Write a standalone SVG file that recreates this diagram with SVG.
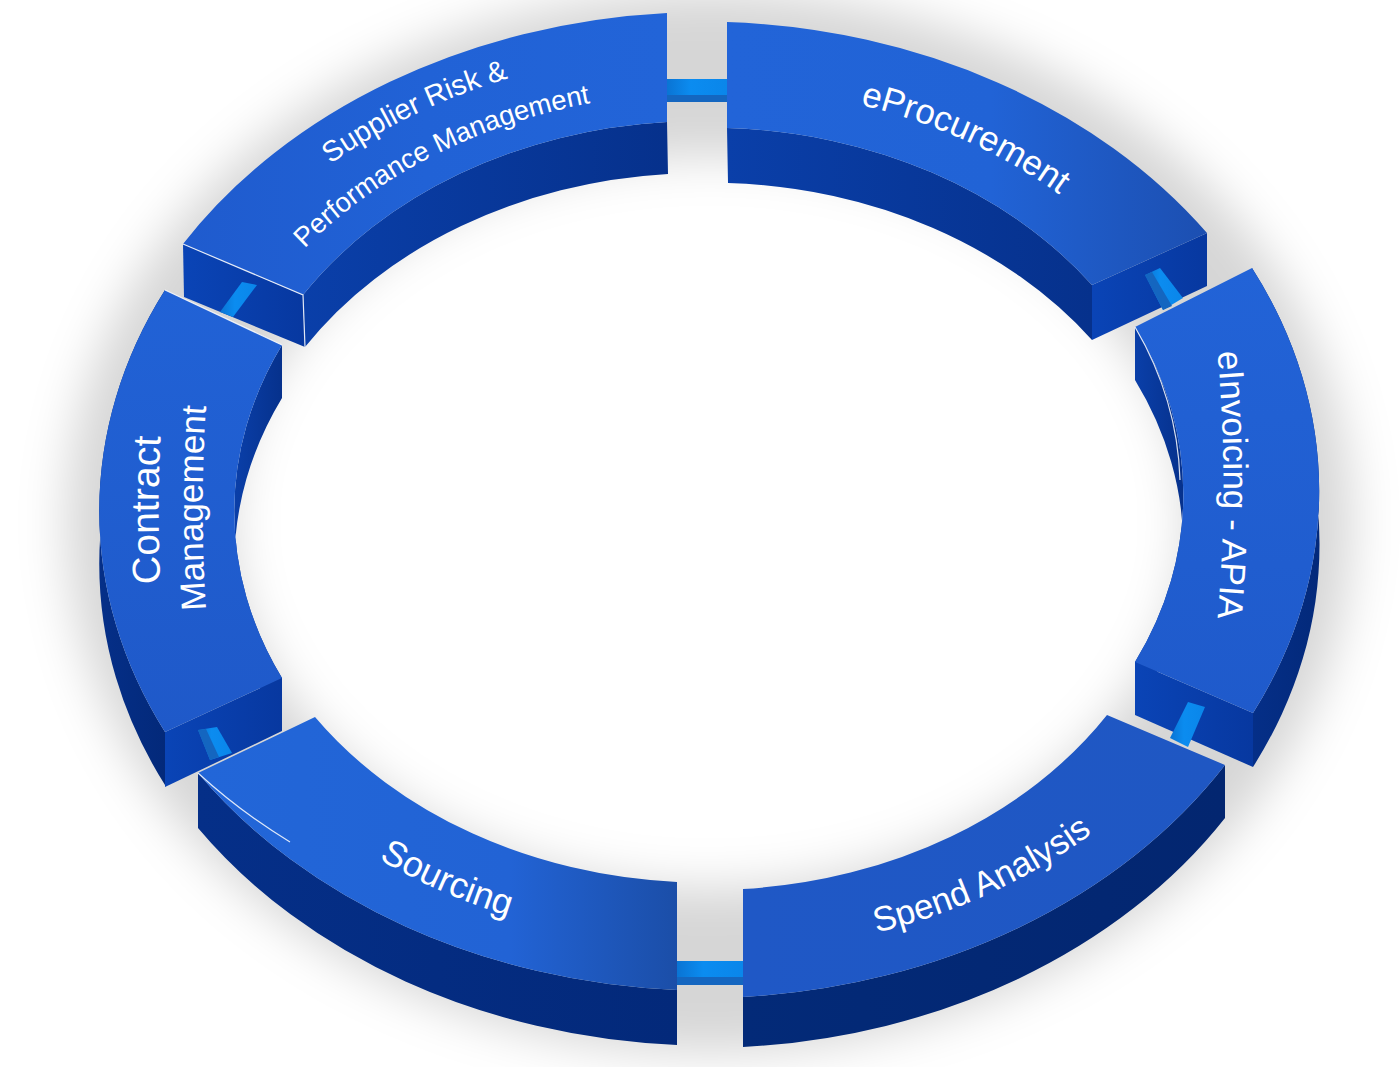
<svg xmlns="http://www.w3.org/2000/svg" width="1400" height="1067" viewBox="0 0 1400 1067">
<defs>
<style>
.lbl{fill:#ffffff;font-family:"Liberation Sans",Arial,Helvetica,sans-serif;}
.wallIn{fill:url(#gWallIn);}
.wallOut{fill:url(#gWallOut);}
.endf{fill:url(#gEnd);}
.hl{fill:none;stroke:#ffffff;stroke-width:1.2;stroke-opacity:0.85;}
.tubeL{fill:url(#gTube);}
.tubeD{fill:#1466c0;}
</style>
<filter id="blur" x="-20%" y="-20%" width="140%" height="140%"><feGaussianBlur stdDeviation="24"/></filter>
<linearGradient id="gWallIn" x1="0" y1="0" x2="1" y2="0"><stop offset="0" stop-color="#0a3fa9"/><stop offset="1" stop-color="#06318c"/></linearGradient>
<linearGradient id="gWallOut" x1="0" y1="0" x2="1" y2="0"><stop offset="0" stop-color="#052f88"/><stop offset="1" stop-color="#03297a"/></linearGradient>
<linearGradient id="gWallSpend" x1="0" y1="0" x2="1" y2="0"><stop offset="0" stop-color="#032a78"/><stop offset="1" stop-color="#032670"/></linearGradient>
<linearGradient id="gEnd" x1="0" y1="0" x2="1" y2="0"><stop offset="0" stop-color="#0a44b6"/><stop offset="1" stop-color="#0738a0"/></linearGradient>
<linearGradient id="gSup" x1="0" y1="0" x2="1" y2="0"><stop offset="0" stop-color="#1f5bce"/><stop offset="0.5" stop-color="#2162d6"/><stop offset="1" stop-color="#2264d8"/></linearGradient>
<linearGradient id="gEproc" x1="0" y1="0" x2="1" y2="0"><stop offset="0" stop-color="#2264d8"/><stop offset="0.55" stop-color="#2163d6"/><stop offset="1" stop-color="#1c4fb1"/></linearGradient>
<linearGradient id="gEinv" x1="0" y1="0" x2="0" y2="1"><stop offset="0" stop-color="#2263d7"/><stop offset="1" stop-color="#1f5acb"/></linearGradient>
<linearGradient id="gSpend" x1="0" y1="0" x2="1" y2="0"><stop offset="0" stop-color="#1f58c6"/><stop offset="1" stop-color="#1f57c3"/></linearGradient>
<linearGradient id="gSrc" x1="0" y1="0" x2="1" y2="0"><stop offset="0" stop-color="#2266d8"/><stop offset="0.65" stop-color="#2263d5"/><stop offset="1" stop-color="#1b4ea8"/></linearGradient>
<linearGradient id="gCon" x1="0" y1="0" x2="0" y2="1"><stop offset="0" stop-color="#2162d6"/><stop offset="1" stop-color="#1f59c9"/></linearGradient>
<linearGradient id="gTube" x1="0" y1="0" x2="1" y2="0"><stop offset="0" stop-color="#0a74d4"/><stop offset="0.4" stop-color="#0b8cf0"/><stop offset="1" stop-color="#0a86ea"/></linearGradient>
<path id="tp-sup1" d="M156.9,393.2 A569,454 0 0 1 798,54.6"/>
<path id="tp-sup2" d="M207.2,410.5 A515,411 0 0 1 780.7,96"/>
<path id="tp-eproc" d="M627.3,92.1 A522,416 0 0 1 1205.5,374.5"/>
<path id="tp-einv" d="M1212,300 A1500,1500 0 0 1 1212,670"/>
<path id="tp-spend" d="M630.5,948.6 A564,450 0 0 0 1245.4,642.1"/>
<path id="tp-src" d="M167.2,598.9 A555,443 0 0 0 848,931.9"/>
<path id="tp-con1" d="M172,710 A1500,1500 0 0 1 172,310"/>
<path id="tp-con2" d="M216,708 A1500,1500 0 0 1 216,308"/>
</defs>
<rect width="1400" height="1067" fill="#ffffff"/>
<g id="shadow" filter="url(#blur)">
<ellipse cx="709" cy="522" rx="560" ry="448" fill="none" stroke="#000000" stroke-opacity="0.16" stroke-width="165"/>
</g>
<g id="node-supplier">
<path class="wallIn" d="M667,122 A472,380 0 0 0 303,295 L305,347 A472,380 0 0 1 668,174 Z"/>
<path class="endf" d="M183,244 L303,295 L305,347 L184,297 Z"/>
<path fill="url(#gSup)" d="M183,244 A617,492 0 0 1 667,13 L667,122 A472,380 0 0 0 303,295 Z"/>
<path class="hl" d="M183,244 L303,295 L305,347"/>
<text class="lbl" font-size="29"><textPath href="#tp-sup1" startOffset="50%" text-anchor="middle">Supplier Risk &amp;</textPath></text>
<text class="lbl" font-size="27.5"><textPath href="#tp-sup2" startOffset="50%" text-anchor="middle">Performance Management</textPath></text>
</g>
<g id="node-eprocurement">
<path class="wallIn" d="M727,128 A472,380 0 0 1 1092,285 L1092,340 A472,380 0 0 0 728,183 Z"/>
<path class="endf" d="M1207,233 L1092,285 L1092,340 L1207,286 Z"/>
<path fill="url(#gEproc)" d="M727,22 A617,492 0 0 1 1207,233 L1092,285 A472,380 0 0 0 727,128 Z"/>
<text class="lbl" font-size="35"><textPath href="#tp-eproc" startOffset="50%" text-anchor="middle">eProcurement</textPath></text>
</g>
<g id="node-contract">
<path class="wallOut" d="M165,732 A617,492 0 0 1 165,290 L165,343 A617,492 0 0 0 165,785 Z"/>
<path class="wallIn" d="M282,345 A472,380 0 0 0 282,678 L282,731 A472,380 0 0 1 282,398 Z"/>
<path class="endf" d="M165,732 L282,678 L282,731 L165,787 Z"/>
<path fill="url(#gCon)" d="M165,732 A617,492 0 0 1 165,290 L282,345 A472,380 0 0 0 282,678 Z"/>
<path class="hl" d="M165,290 L282,345"/>
<text class="lbl" font-size="39"><textPath href="#tp-con1" startOffset="50%" text-anchor="middle">Contract</textPath></text>
<text class="lbl" font-size="35"><textPath href="#tp-con2" startOffset="50%" text-anchor="middle">Management</textPath></text>
</g>
<g id="node-einvoicing">
<path class="wallIn" d="M1135,327 A472,380 0 0 1 1135,662 L1135,715 A472,380 0 0 0 1135,380 Z"/>
<path class="wallOut" d="M1252,268 A617,492 0 0 1 1253,713 L1253,767 A617,492 0 0 0 1252,321 Z"/>
<path class="endf" d="M1253,713 L1135,662 L1135,715 L1253,767 Z"/>
<path fill="url(#gEinv)" d="M1252,268 A617,492 0 0 1 1253,713 L1135,662 A472,380 0 0 0 1135,327 Z"/>
<path class="hl" d="M1135,327 A472,380 0 0 1 1180,480"/>
<text class="lbl" font-size="35"><textPath href="#tp-einv" startOffset="50%" text-anchor="middle">eInvoicing - APIA</textPath></text>
</g>
<g id="node-sourcing">
<path class="wallOut" d="M677,990 A617,492 0 0 1 198,773 L198,828 A617,492 0 0 0 677,1045 Z"/>
<path fill="url(#gSrc)" d="M677,990 A617,492 0 0 1 198,773 L315,717 A472,380 0 0 0 677,882 Z"/>
<path class="hl" d="M198,773 A617,492 0 0 0 290,842"/>
<text class="lbl" font-size="36"><textPath href="#tp-src" startOffset="50%" text-anchor="middle">Sourcing</textPath></text>
</g>
<g id="node-spend">
<path fill="url(#gWallSpend)" d="M1225,765 A617,492 0 0 1 743,997 L743,1047 A617,492 0 0 0 1225,818 Z"/>
<path fill="url(#gSpend)" d="M1225,765 A617,492 0 0 1 743,997 L743,889 A472,380 0 0 0 1107,715 Z"/>
<text class="lbl" font-size="35"><textPath href="#tp-spend" startOffset="50%" text-anchor="middle">Spend Analysis</textPath></text>
</g>
<g id="connectors">
<rect class="tubeL" x="667" y="79" width="60" height="16"/>
<rect class="tubeD" x="667" y="95" width="60" height="7"/>
<rect class="tubeL" x="677" y="961" width="66" height="16"/>
<rect class="tubeD" x="677" y="977" width="66" height="8"/>
<path class="tubeL" d="M242,282 L257,285 L233,317 L220,312 Z"/>
<path class="tubeL" d="M1145,275 L1160,268 L1183,298 L1163,310 Z"/>
<path class="tubeD" d="M1145,275 L1152,272 L1172,306 L1163,310 Z"/>
<path class="tubeL" d="M1188,702 L1205,707 L1188,747 L1170,738 Z"/>
<path class="tubeL" d="M198,730 L217,727 L232,753 L210,760 Z"/>
<path class="tubeD" d="M198,730 L206,729 L219,757 L210,760 Z"/>
</g>
</svg>
